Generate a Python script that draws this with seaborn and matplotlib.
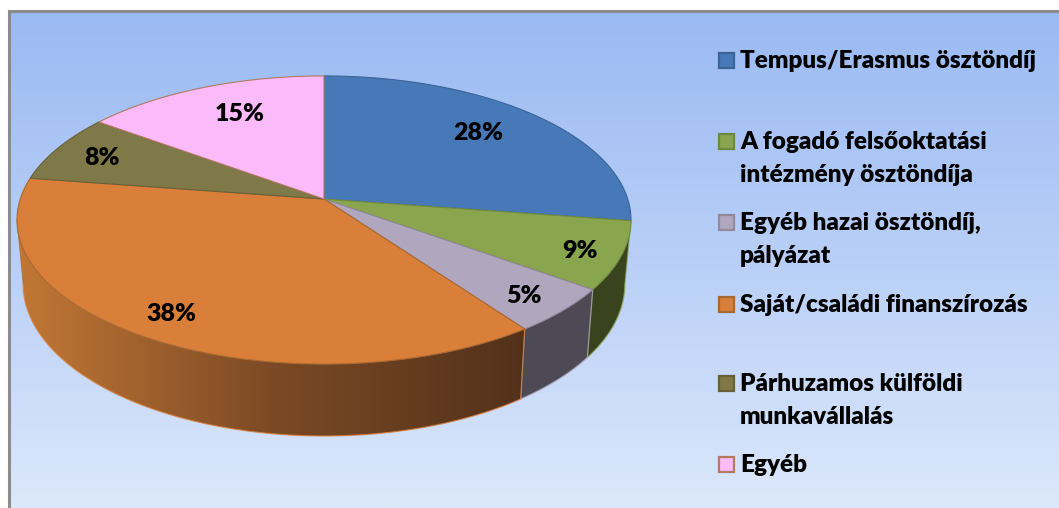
import numpy as np
import matplotlib
matplotlib.use("Agg")
import matplotlib.pyplot as plt
from matplotlib.patches import Polygon, Rectangle
import seaborn as sns

# slice sizes read from the rim, printed labels are rounded differently in the source
legend_labels = [
    "Tempus/Erasmus ösztöndíj",
    "A fogadó felsőoktatási\nintézmény ösztöndíja",
    "Egyéb hazai ösztöndíj,\npályázat",
    "Saját/családi finanszírozás",
    "Párhuzamos külföldi\nmunkavállalás",
    "Egyéb",
]
slice_values = [27.4, 7.6, 5.1, 37.3, 7.7, 14.9]
pct_labels = ["28%", "9%", "5%", "38%", "8%", "15%"]
top_colors = ["#4779B9", "#89A54E", "#B0A7BE", "#D97F3A", "#7F7848", "#FBBBFB"]
edge_colors = ["#3A6496", "#6F8840", "#94889C", "#A9682F", "#676139", "#B27A60"]
side_colors = [
    ["#2A4870", "#2A4870"],
    ["#39431E", "#39431E"],
    ["#4E4A55", "#4E4A55"],
    ["#C27835", "#7C4A25", "#52311A"],
    ["#4A4528", "#4A4528"],
    ["#8A668A", "#8A668A"],
]

sns.set_theme(style="white")
plt.rcParams["font.family"] = ["Lato", "DejaVu Sans"]

W, H = 1059, 508
fig = plt.figure(figsize=(W / 100, H / 100), dpi=100, facecolor="white")
ax = fig.add_axes([0, 0, 1, 1])
ax.set_axis_off()

# background
bg_cmap = sns.blend_palette(["#9ABAF3", "#B9CFF7", "#DCE8FB"], as_cmap=True)
ax.imshow(np.linspace(0, 1, 256).reshape(-1, 1), cmap=bg_cmap, aspect="auto",
          extent=(8, W, H, 10), zorder=0)
ax.plot([9, 9, W], [H, 11, 11], color="#8C8C8C", lw=2.2, zorder=1, solid_joinstyle="miter")

# pie geometry in pixels: perspective disc seen from above
cx, cy = 324.0, 199.0
R, A, K = 303.7, 141.0, 0.1458
front_from = np.arccos(-K)
front_to = 2 * np.pi - front_from


def rim(theta):
    # theta clockwise from 12 o'clock
    X, Y = np.sin(theta), np.cos(theta)
    w = 1 + K * Y
    return cx + R * X / w, cy - A * Y / w


def lower(x, y):
    # same rim point on the bottom of the disc
    return cx + (x - cx) * 0.98, 284 + (y - 220) * 1.055


fracs = np.array(slice_values) / np.sum(slice_values)
edges = np.concatenate([[0], np.cumsum(fracs)]) * 2 * np.pi

# side walls, only the part facing the viewer
for i in range(len(fracs)):
    t0 = max(edges[i], front_from)
    t1 = min(edges[i + 1], front_to)
    if t1 - t0 < 0.02:
        continue
    t = np.linspace(t0, t1, 120)
    x, y = rim(t)
    bx, by = lower(x, y)
    pts = np.column_stack([np.r_[x, bx[::-1]], np.r_[y, by[::-1]]])
    wall = Polygon(pts, closed=True, facecolor="none", edgecolor="none", zorder=2)
    ax.add_patch(wall)
    cmap = sns.blend_palette(side_colors[i], as_cmap=True)
    img = ax.imshow(np.linspace(0, 1, 256).reshape(1, -1), cmap=cmap, aspect="auto",
                    extent=(pts[:, 0].min(), pts[:, 0].max(), pts[:, 1].max(), pts[:, 1].min()),
                    zorder=2)
    img.set_clip_path(wall)
    ax.plot(bx, by, color=top_colors[i], lw=0.9, alpha=0.8, zorder=3)
    ax.plot([x[0], bx[0]], [y[0], by[0]], color=top_colors[i], lw=0.9, alpha=0.7, zorder=3)
    ax.plot([x[-1], bx[-1]], [y[-1], by[-1]], color=edge_colors[i], lw=0.7, alpha=0.7, zorder=3)

# top surface
for i in range(len(fracs)):
    t = np.linspace(edges[i], edges[i + 1], 160)
    x, y = rim(t)
    ax.fill(np.r_[cx, x], np.r_[cy, y], facecolor=top_colors[i], edgecolor=edge_colors[i],
            lw=0.8, zorder=4)

# percent labels
label_x = [478, 580, 524, 171, 102, 240]
label_y = [133, 251, 296, 314, 158, 114]
for s, lx, ly in zip(pct_labels, label_x, label_y):
    ax.text(lx, ly, s, ha="center", va="center", fontsize=18, fontweight="heavy",
            color="black", zorder=5)

# legend
legend_base = [68, 149, 230, 312, 391, 472]
line_h = 33
for name, col, edge, base in zip(legend_labels, top_colors, edge_colors, legend_base):
    ax.add_patch(Rectangle((719, base - 15), 15, 15, facecolor=col, edgecolor=edge,
                           lw=1.6, zorder=5))
    for n, line in enumerate(name.split("\n")):
        ax.text(740, base + n * line_h, line, ha="left", va="baseline", fontsize=17.5,
                fontweight="heavy", color="black", zorder=5)

ax.set_xlim(0, W)
ax.set_ylim(H, 0)
fig.savefig("out.png", dpi=100, facecolor="white")
